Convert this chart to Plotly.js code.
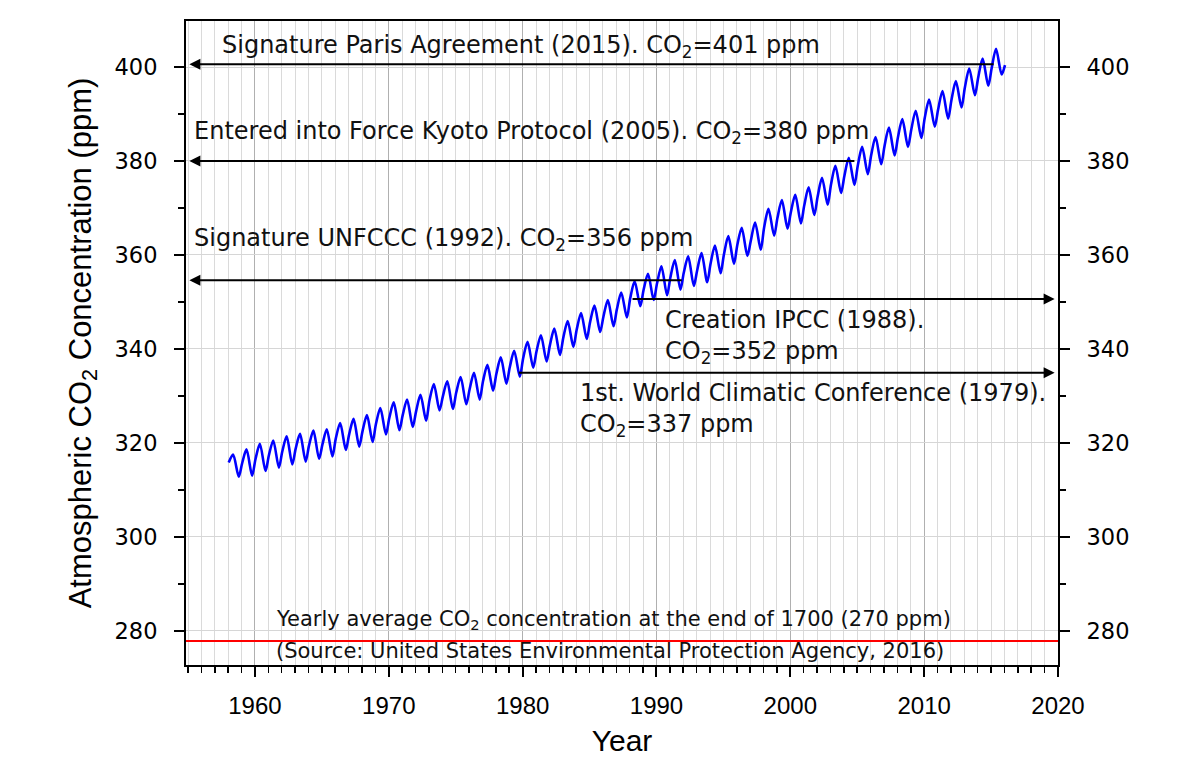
<!DOCTYPE html>
<html><head><meta charset="utf-8">
<script src="https://cdn.plot.ly/plotly-3.0.1.min.js"></script>
<style>html,body{margin:0;padding:0;background:#fff}#chart{width:1181px;height:758px}</style>
</head><body><div id="chart"></div>
<script>
// ---- Data (Mauna Loa style record, ppm) ----
const years = [1958,1959,1960,1961,1962,1963,1964,1965,1966,1967,1968,1969,1970,1971,1972,1973,1974,1975,1976,1977,1978,1979,1980,1981,1982,1983,1984,1985,1986,1987,1988,1989,1990,1991,1992,1993,1994,1995,1996,1997,1998,1999,2000,2001,2002,2003,2004,2005,2006,2007,2008,2009,2010,2011,2012,2013,2014,2015,2016];
// early-year (winter) value
const janCO2 = [315.8,315.6,316.5,317.3,318.1,318.7,319.4,319.6,320.9,321.8,322.5,324.0,325.3,325.9,326.7,329.0,329.9,330.7,331.4,333.1,334.7,336.1,338.0,339.5,340.8,342.4,344.1,345.7,346.9,348.4,350.8,352.6,353.9,355.2,356.2,356.7,358.1,360.1,362.1,362.9,365.8,367.9,369.1,370.5,372.4,375.0,376.8,379.0,381.2,383.2,385.0,386.7,389.1,390.9,393.0,395.6,397.8,399.7,400.4];
// spring peak
const mayCO2 = [317.5,318.6,319.8,320.5,321.4,321.9,322.6,322.9,324.2,325.1,325.9,327.4,328.6,329.2,330.2,332.5,333.1,334.0,334.9,336.6,338.2,339.6,341.5,342.9,344.3,345.9,347.6,349.2,350.4,352.0,354.4,356.0,357.6,358.9,359.7,360.4,362.0,364.0,365.8,366.9,369.8,371.7,372.8,374.4,376.4,379.0,380.7,383.0,385.1,387.1,388.9,390.7,393.1,394.9,397.0,399.7,401.8,403.9,null];
// autumn trough
const octCO2 = [312.8,313.0,314.0,314.7,315.4,316.0,316.6,317.1,318.5,319.2,320.2,321.8,322.7,323.4,324.7,326.9,327.2,328.2,329.2,331.1,332.6,334.1,336.0,337.3,338.7,340.4,342.1,343.6,344.8,346.7,349.1,350.4,351.4,352.6,353.4,354.2,356.1,358.1,359.8,361.1,364.1,365.6,366.7,368.5,370.7,373.2,374.9,377.2,379.3,381.2,383.0,384.9,387.3,389.0,391.4,394.0,396.0,398.4,null];
const seasonFraction = [0.04, 0.37, 0.79]; // Jan, May, Oct within the year

// pre-industrial reference line
const refLevel = 277.8;
const refYears = [1954.85, 2020];

// events (arrow tail year, arrow level in ppm, direction)
const eventNames = [
  'Signature Paris Agreement (2015). CO<sub>2</sub>=401 ppm',
  'Entered into Force Kyoto Protocol (2005). CO<sub>2</sub>=380 ppm',
  'Signature UNFCCC (1992). CO<sub>2</sub>=356 ppm',
  'Creation IPCC (1988).<br>CO<sub>2</sub>=352 ppm',
  '1st. World Climatic Conference (1979).<br>CO<sub>2</sub>=337 ppm'
];
const eventYears  = [2015.3, 2004.9, 1992.0, 1988.1, 1979.6];
const eventLevels = [400.6, 380.0, 354.6, 350.6, 334.9];
const eventPointsLeft = [true, true, true, false, false];
const refNotes = [
  'Yearly average CO<sub>2</sub> concentration at the end of 1700 (270 ppm)',
  '(Source: United States Environmental Protection Agency, 2016)'
];

// ---- build curve ----
const cx = [], cy = [];
years.forEach((yr, i) => {
  [janCO2[i], mayCO2[i], octCO2[i]].forEach((v, k) => {
    if (v !== null) { cx.push(yr + seasonFraction[k]); cy.push(v); }
  });
});

const XR = [1954.85, 2020];
const YR = [272.7, 409.8];

const traces = [
  {x: refYears, y: [refLevel, refLevel], type: 'scatter', mode: 'lines',
   line: {color: '#ff0000', width: 2}, yaxis: 'y2', hoverinfo: 'skip', showlegend: false},
  {x: cx, y: cy, type: 'scatter', mode: 'lines',
   line: {color: '#0000ff', width: 2.6, shape: 'spline', smoothing: 0.8}, showlegend: false}
];

const textFont = {family: 'DejaVu Sans, Liberation Sans, Arial', size: 24, color: '#111'};
const annotations = [];
// arrows
eventNames.forEach((t, i) => {
  annotations.push({
    xref: 'x', yref: 'y', axref: 'x', ayref: 'y',
    x: eventPointsLeft[i] ? XR[0] + 0.25 : XR[1] - 0.25, y: eventLevels[i],
    ax: eventYears[i], ay: eventLevels[i],
    text: '', showarrow: true, arrowhead: 2, arrowsize: 1.1, arrowwidth: 2, arrowcolor: '#000',
    standoff: 0, startstandoff: 0
  });
});
// event texts (positions are layout choices)
const textPos = [
  {x: 1957.4, y: 404.3}, {x: 1955.3, y: 386.0}, {x: 1955.3, y: 363.2},
  {x: 1990.5, y: 342.6}, {x: 1984.1, y: 327.0}
];
eventNames.forEach((t, i) => {
  annotations.push({xref: 'x', yref: 'y', x: textPos[i].x, y: textPos[i].y, text: t,
    showarrow: false, xanchor: 'left', yanchor: 'middle', align: 'left', font: textFont});
});
const refPos = [{x: 1961.4, y: 282.3}, {x: 1961.4, y: 275.7}];
refNotes.forEach((t, i) => {
  annotations.push({xref: 'x', yref: 'y', x: refPos[i].x, y: refPos[i].y, text: t,
    showarrow: false, xanchor: 'left', yanchor: 'middle', align: 'left',
    font: {family: 'DejaVu Sans, Liberation Sans, Arial', size: 21, color: '#111'}});
});

const yTickFont = {family: 'DejaVu Sans, Arial', size: 22.5, color: '#000'};
const yCommon = {
  range: YR, tickmode: 'linear', tick0: 0, dtick: 20,
  ticks: 'outside', ticklen: 10, tickwidth: 2, tickcolor: '#000',
  minor: {dtick: 10, tick0: 0, ticks: 'outside', ticklen: 6, tickwidth: 2, tickcolor: '#000', showgrid: false},
  showline: true, linewidth: 2, linecolor: '#000', zeroline: false,
  tickfont: yTickFont, ticklabelstandoff: 12, automargin: false, fixedrange: true
};

const layout = {
  width: 1181, height: 758,
  margin: {l: 186, r: 123, t: 21, b: 93},
  paper_bgcolor: '#fff', plot_bgcolor: '#fff',
  showlegend: false,
  xaxis: {
    range: XR, tickmode: 'linear', tick0: 1960, dtick: 10,
    ticks: 'outside', ticklen: 10, tickwidth: 2, tickcolor: '#000',
    showgrid: true, gridcolor: '#b0b0b0', gridwidth: 1,
    minor: {dtick: 1, tick0: 1955, ticks: 'outside', ticklen: 6, tickwidth: 1.5, tickcolor: '#000',
            showgrid: true, gridcolor: '#dadada', gridwidth: 1},
    showline: true, linewidth: 2, linecolor: '#000', mirror: true, zeroline: false,
    tickfont: {family: 'Liberation Sans, Arial', size: 24, color: '#000'},
    ticklabelstandoff: 8, automargin: false,
    title: {text: 'Year', font: {family: 'Liberation Sans, Arial', size: 30, color: '#000'}, standoff: 12}
  },
  yaxis: Object.assign({}, yCommon, {
    side: 'left', showgrid: true, gridcolor: '#d6d6d6', gridwidth: 1,
    title: {text: 'Atmospheric CO<sub>2</sub> Concentration (ppm)',
            font: {family: 'Liberation Sans, Arial', size: 31, color: '#000'}, standoff: 14}
  }),
  yaxis2: Object.assign({}, yCommon, {
    side: 'right', overlaying: 'y', showgrid: false
  }),
  annotations: annotations
};

Plotly.newPlot('chart', traces, layout, {displayModeBar: false, staticPlot: true});
</script></body></html>
